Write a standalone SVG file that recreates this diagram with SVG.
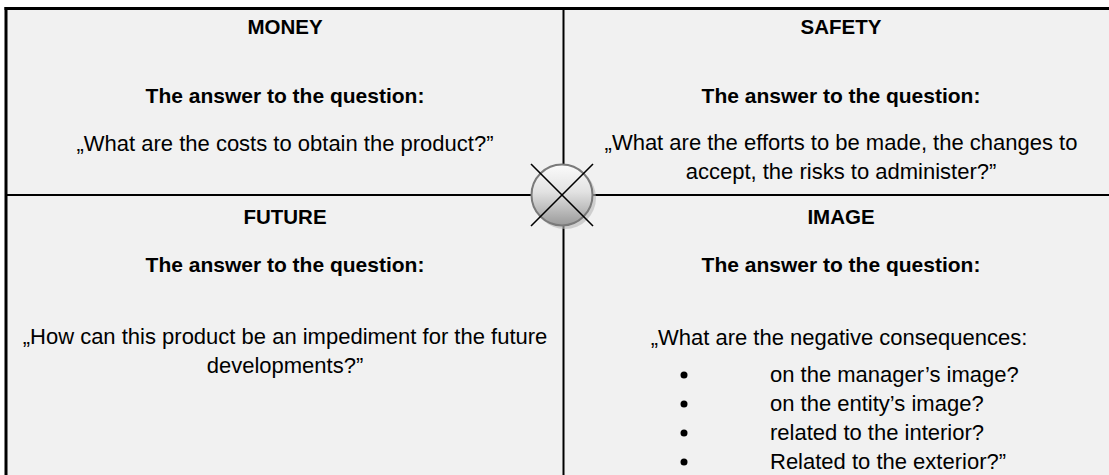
<svg xmlns="http://www.w3.org/2000/svg" width="1109" height="475" viewBox="0 0 1109 475">
  <defs>
    <linearGradient id="ballGrad" x1="0" y1="0" x2="0" y2="1">
      <stop offset="0" stop-color="#fbfbfb"/>
      <stop offset="0.45" stop-color="#e2e2e2"/>
      <stop offset="1" stop-color="#9a9a9a"/>
    </linearGradient>
    <style>
      .title { font-family: "Liberation Sans", Arial, sans-serif; font-weight: bold; font-size: 20.5px; fill: #000; text-anchor: middle; }
      .ans { font-family: "Liberation Sans", Arial, sans-serif; font-weight: bold; font-size: 21px; fill: #000; text-anchor: middle; }
      .body { font-family: "Liberation Sans", Arial, sans-serif; font-size: 22px; fill: #000; text-anchor: middle; }
      .bl { font-family: "Liberation Sans", Arial, sans-serif; font-size: 22px; fill: #000; }
      .div { stroke: #000; stroke-width: 2; fill: none; }
      .border { stroke: #000; stroke-width: 3; fill: none; }
    </style>
  </defs>
  <rect x="0" y="0" width="1109" height="475" fill="#ffffff"/>
  <rect x="7" y="10" width="1102" height="465" fill="#f1f1f1"/>

  <g id="connectors">
    <line class="border" x1="4.5" y1="8.5" x2="1109" y2="8.5"/>
    <line class="border" x1="6" y1="7" x2="6" y2="475"/>
    <line class="div" x1="563.5" y1="10" x2="563.5" y2="475"/>
    <line class="div" x1="7" y1="195" x2="1109" y2="195"/>
  </g>

  <g id="money">
    <text class="title" x="285" y="34">MONEY</text>
    <text class="ans" x="285" y="103">The answer to the question:</text>
    <text class="body" x="285" y="151">„What are the costs to obtain the product?”</text>
  </g>

  <g id="safety">
    <text class="title" x="841" y="34">SAFETY</text>
    <text class="ans" x="841" y="103">The answer to the question:</text>
    <text class="body" x="841" y="150">„What are the efforts to be made, the changes to</text>
    <text class="body" x="841" y="179">accept, the risks to administer?”</text>
  </g>

  <g id="future">
    <text class="title" x="285" y="224">FUTURE</text>
    <text class="ans" x="285" y="272">The answer to the question:</text>
    <text class="body" x="285" y="344">„How can this product be an impediment for the future</text>
    <text class="body" x="285" y="373">developments?”</text>
  </g>

  <g id="image">
    <text class="title" x="841" y="224">IMAGE</text>
    <text class="ans" x="841" y="272">The answer to the question:</text>
    <text class="body" x="839" y="345">„What are the negative consequences:</text>
    <circle cx="684" cy="375" r="3.5" fill="#000"/>
    <circle cx="684" cy="404" r="3.5" fill="#000"/>
    <circle cx="684" cy="433" r="3.5" fill="#000"/>
    <circle cx="684" cy="462" r="3.5" fill="#000"/>
    <text class="bl" x="770" y="382">on the manager’s image?</text>
    <text class="bl" x="770" y="411">on the entity’s image?</text>
    <text class="bl" x="770" y="440">related to the interior?</text>
    <text class="bl" x="770" y="469">Related to the exterior?”</text>
  </g>

  <g id="center-ball">
    <circle cx="565" cy="198" r="31" fill="#b8b8b8" opacity="0.6"/>
    <circle cx="562" cy="195" r="30.5" fill="url(#ballGrad)" stroke="#7a7a7a" stroke-width="2"/>
    <line x1="531" y1="164" x2="593" y2="226" stroke="#000" stroke-width="1.6"/>
    <line x1="593" y1="164" x2="531" y2="226" stroke="#000" stroke-width="1.6"/>
  </g>
</svg>
